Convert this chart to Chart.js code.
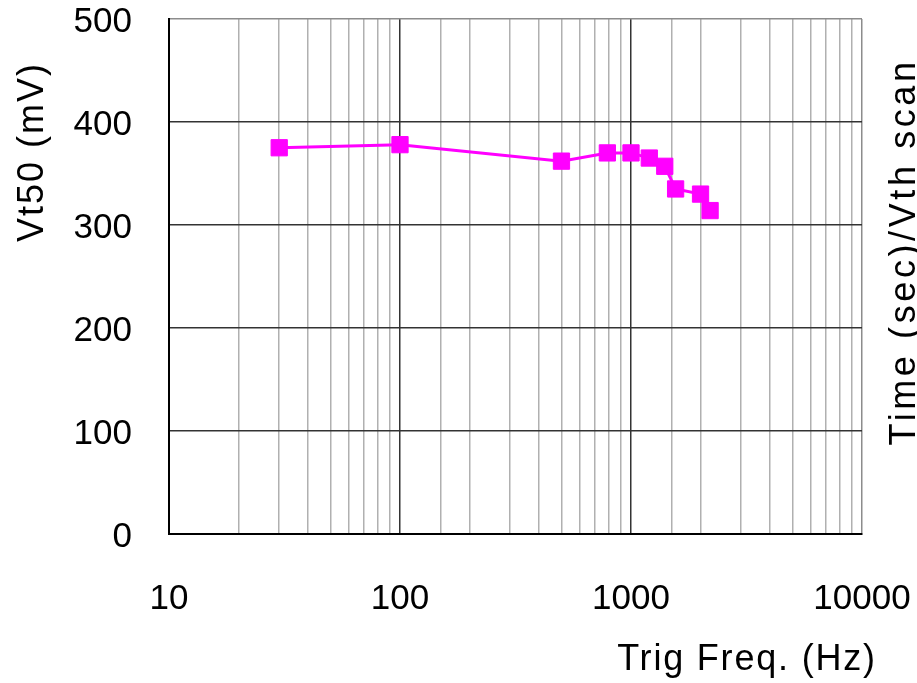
<!DOCTYPE html>
<html>
<head>
<meta charset="utf-8">
<script src="https://cdn.jsdelivr.net/npm/chart.js@4/dist/chart.umd.min.js"></script>
<style>
  html, body { margin: 0; padding: 0; background: #fff; }
  #wrap { width: 917px; height: 683px; }
</style>
</head>
<body>
<div id="wrap"><canvas id="vtChart" width="917" height="683"></canvas></div>
<script>
// trigger frequency (Hz) and measured Vt50 (mV)
var trigFreq = [30, 100, 500, 790, 1000, 1200, 1400, 1560, 2000, 2200];
var vt50 = [375, 378, 362, 370, 370, 365, 357, 335, 330, 314];
var xTickLabels = [10, 100, 1000, 10000];
var yTickLabels = [0, 100, 200, 300, 400, 500];

var FONT = "'Liberation Sans', Arial, sans-serif";

function isDecade(v) {
  var l = Math.log10(v);
  return Math.abs(l - Math.round(l)) < 1e-9;
}

// keep the plot box fixed: no extra room for overhanging tick labels
function noPad(s) {
  s.paddingLeft = 0;
  s.paddingRight = 0;
  s.paddingTop = 0;
  s.paddingBottom = 0;
}

function drawText(ctx, text, x, y, angle, spacing, align) {
  ctx.save();
  ctx.translate(x, y);
  ctx.rotate(angle);
  ctx.font = "36px " + FONT;
  ctx.letterSpacing = spacing + "px";
  ctx.fillStyle = "#000";
  ctx.textAlign = align;
  ctx.textBaseline = "alphabetic";
  ctx.fillText(text, 0, 0);
  ctx.restore();
}

// axis captions, including the right-hand one
var axisTitles = {
  id: "axisTitles",
  afterDraw: function (chart) {
    var ctx = chart.ctx;
    drawText(ctx, "Vt50 (mV)", 43, 152, -Math.PI / 2, 2, "center");
    drawText(ctx, "Trig Freq. (Hz)", 747, 670, 0, 1.8, "center");
    drawText(ctx, "Time (sec)/Vth scan", 915, 252, -Math.PI / 2, 3.6, "center");
  }
};

window.onload = function () {
  var ctx = document.getElementById("vtChart").getContext("2d");
  var chart = new Chart(ctx, {
    type: "line",
    data: {
      datasets: [
        {
          data: trigFreq.map(function (f, i) { return { x: f, y: vt50[i] }; }),
          borderColor: "#ff00ff",
          backgroundColor: "#ff00ff",
          borderWidth: 3,
          pointStyle: "rect",
          pointRadius: 11.5,
          pointBorderWidth: 1,
          tension: 0,
          fill: false
        }
      ]
    },
    options: {
      responsive: false,
      animation: false,
      devicePixelRatio: 1,
      layout: { padding: { top: 19, right: 55, left: 0, bottom: 0 } },
      plugins: {
        legend: { display: false },
        tooltip: { enabled: false }
      },
      scales: {
        x: {
          type: "logarithmic",
          min: 10,
          max: 10000,
          afterFit: function (s) { s.height = 149; noPad(s); },
          border: { display: true, color: "#000", width: 2 },
          grid: {
            drawTicks: false,
            lineWidth: 1.5,
            color: function (c) {
              var v = c.tick && c.tick.value;
              if (v === 10000) return "#8c8c8c";
              return isDecade(v) ? "#333" : "#b0b0b0";
            }
          },
          ticks: {
            autoSkip: false,
            maxRotation: 0,
            padding: 44,
            color: "#000",
            font: { family: FONT, size: 35 },
            callback: function (v) {
              return xTickLabels.indexOf(v) >= 0 ? String(v) : "";
            }
          }
        },
        y: {
          min: 0,
          max: 500,
          afterFit: function (s) { s.width = 169; noPad(s); },
          afterBuildTicks: function (s) {
            s.ticks = yTickLabels.map(function (v) { return { value: v }; });
          },
          border: { display: true, color: "#000", width: 2 },
          grid: {
            drawTicks: false,
            lineWidth: 1.5,
            color: function (c) {
              return c.tick && c.tick.value === 500 ? "#8c8c8c" : "#333";
            }
          },
          ticks: {
            padding: 37,
            labelOffset: 3,
            color: "#000",
            font: { family: FONT, size: 35 }
          }
        }
      }
    },
    plugins: [axisTitles]
  });
};
</script>
</body>
</html>
